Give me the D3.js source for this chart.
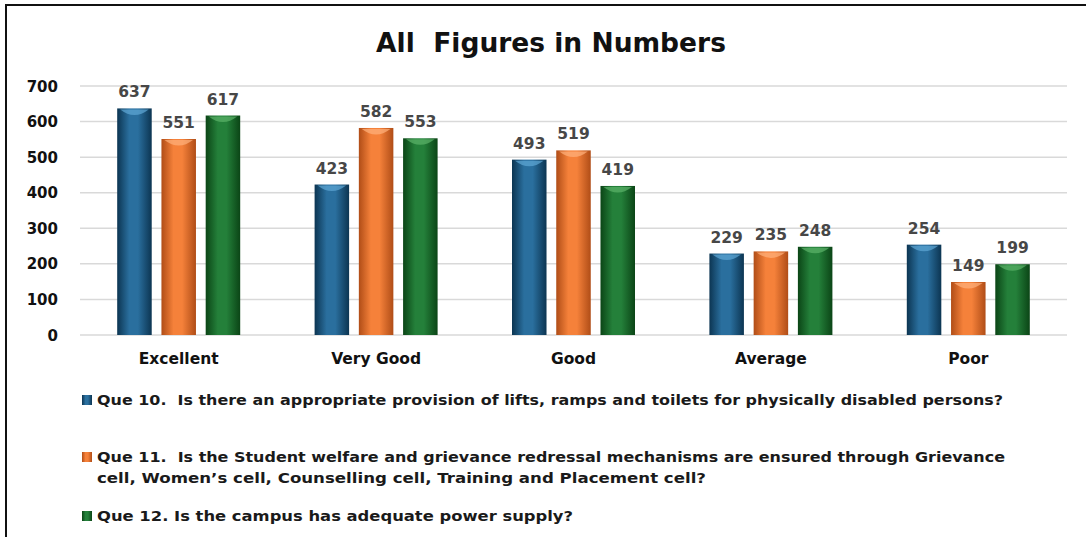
<!DOCTYPE html>
<html lang="en">
<head>
    <meta charset="UTF-8">
    <title>All Figures in Numbers</title>
    <script src="https://d3js.org/d3.v7.min.js"></script>
    <style>
        body { margin: 0; background: #fff; }
        text { font-family: "DejaVu Sans", sans-serif; font-weight: bold; }
    </style>
</head>
<body>
    <svg id="chart" width="1086" height="537"></svg>

    <script>
        const categories = ["Excellent", "Very Good", "Good", "Average", "Poor"];
        const seriesNames = ["Que 10", "Que 11", "Que 12"];
        const que10 = [637, 423, 493, 229, 254];
        const que11 = [551, 582, 519, 235, 149];
        const que12 = [617, 553, 419, 248, 199];
        const yTicks = [0, 100, 200, 300, 400, 500, 600, 700];
        const legendLines = [
            ["Que 10.  Is there an appropriate provision of lifts, ramps and toilets for physically disabled persons?"],
            ["Que 11.  Is the Student welfare and grievance redressal mechanisms are ensured through Grievance",
             "cell, Women\u2019s cell, Counselling cell, Training and Placement cell?"],
            ["Que 12. Is the campus has adequate power supply?"]
        ];

        const allSeries = [que10, que11, que12];
        const colors = [
            { mid: "#2a6f9e", edge: "#0c3552", cap: "#5fa8d6" },
            { mid: "#f5813a", edge: "#b04d17", cap: "#ffb27d" },
            { mid: "#24803a", edge: "#0b4516", cap: "#5cb46a" }
        ];

        const svg = d3.select("#chart");

        // frame
        svg.append("rect").attr("x", 6).attr("y", 5).attr("width", 1100).attr("height", 560)
            .attr("fill", "none").attr("stroke", "#111").attr("stroke-width", 2);

        svg.append("text").attr("x", 551).attr("y", 52).attr("text-anchor", "middle")
            .attr("font-size", 26.5).attr("fill", "#111")
            .attr("xml:space", "preserve")
            .text("All  Figures in Numbers");

        const x0 = d3.scaleBand().domain(categories).range([80, 1067]);
        const x1 = d3.scaleBand().domain(seriesNames).range([0, 123]).paddingInner(0.22);
        const y = d3.scaleLinear().domain([0, 700]).range([335, 86]);

        // gradients
        const defs = svg.append("defs");
        colors.forEach((c, i) => {
            const g = defs.append("linearGradient").attr("id", "g" + i)
                .attr("x1", "0%").attr("x2", "100%").attr("y1", "0%").attr("y2", "0%");
            g.append("stop").attr("offset", "0%").attr("stop-color", c.edge);
            g.append("stop").attr("offset", "35%").attr("stop-color", c.mid);
            g.append("stop").attr("offset", "60%").attr("stop-color", c.mid);
            g.append("stop").attr("offset", "100%").attr("stop-color", c.edge);
        });

        // gridlines
        svg.append("g").selectAll("line").data(yTicks).join("line")
            .attr("x1", 80).attr("x2", 1067)
            .attr("y1", d => y(d)).attr("y2", d => y(d))
            .attr("stroke", "#d9d9d9").attr("stroke-width", 1.5);

        svg.append("g").selectAll("text").data(yTicks).join("text")
            .attr("x", 58).attr("y", d => y(d) + 5.5).attr("text-anchor", "end")
            .attr("font-size", 15).attr("fill", "#111")
            .text(d => d);

        // bars
        const groups = svg.append("g").selectAll("g").data(categories).join("g")
            .attr("transform", d => `translate(${x0(d) + (x0.bandwidth() - 123) / 2},0)`);

        groups.each(function(cat, ci) {
            const g = d3.select(this);
            allSeries.forEach((vals, si) => {
                const v = vals[ci];
                const bx = x1(seriesNames[si]);
                const bw = x1.bandwidth();
                g.append("rect").attr("x", bx).attr("y", y(v)).attr("width", bw)
                    .attr("height", y(0) - y(v)).attr("fill", `url(#g${si})`);
                g.append("path")
                    .attr("d", `M${bx + 3},${y(v) + 1} Q${bx + bw / 2},${y(v) + 12} ${bx + bw - 3},${y(v) + 1} Z`)
                    .attr("fill", colors[si].cap).attr("opacity", 0.7);
                g.append("text").attr("x", bx + bw / 2).attr("y", y(v) - 11)
                    .attr("text-anchor", "middle").attr("font-size", 15.5)
                    .attr("fill", "#474747").text(v);
            });
        });

        svg.append("g").selectAll("text").data(categories).join("text")
            .attr("x", d => x0(d) + x0.bandwidth() / 2).attr("y", 364)
            .attr("text-anchor", "middle").attr("font-size", 15.5)
            .attr("fill", "#111").text(d => d);

        // legend
        const legendY = [405, 462, 521];
        const legendWidths = [[906], [908, 609], [476]];
        legendLines.forEach((lines, i) => {
            svg.append("rect").attr("x", 82).attr("y", legendY[i] - 10).attr("width", 10).attr("height", 10)
                .attr("fill", `url(#g${i})`);
            lines.forEach((t, j) => {
                svg.append("text").attr("x", 97).attr("y", legendY[i] + j * 21)
                    .attr("font-size", 14.5).attr("fill", "#1a1a1a")
                    .attr("textLength", legendWidths[i][j]).attr("lengthAdjust", "spacingAndGlyphs")
                    .attr("xml:space", "preserve").text(t);
            });
        });
    </script>
</body>
</html>
